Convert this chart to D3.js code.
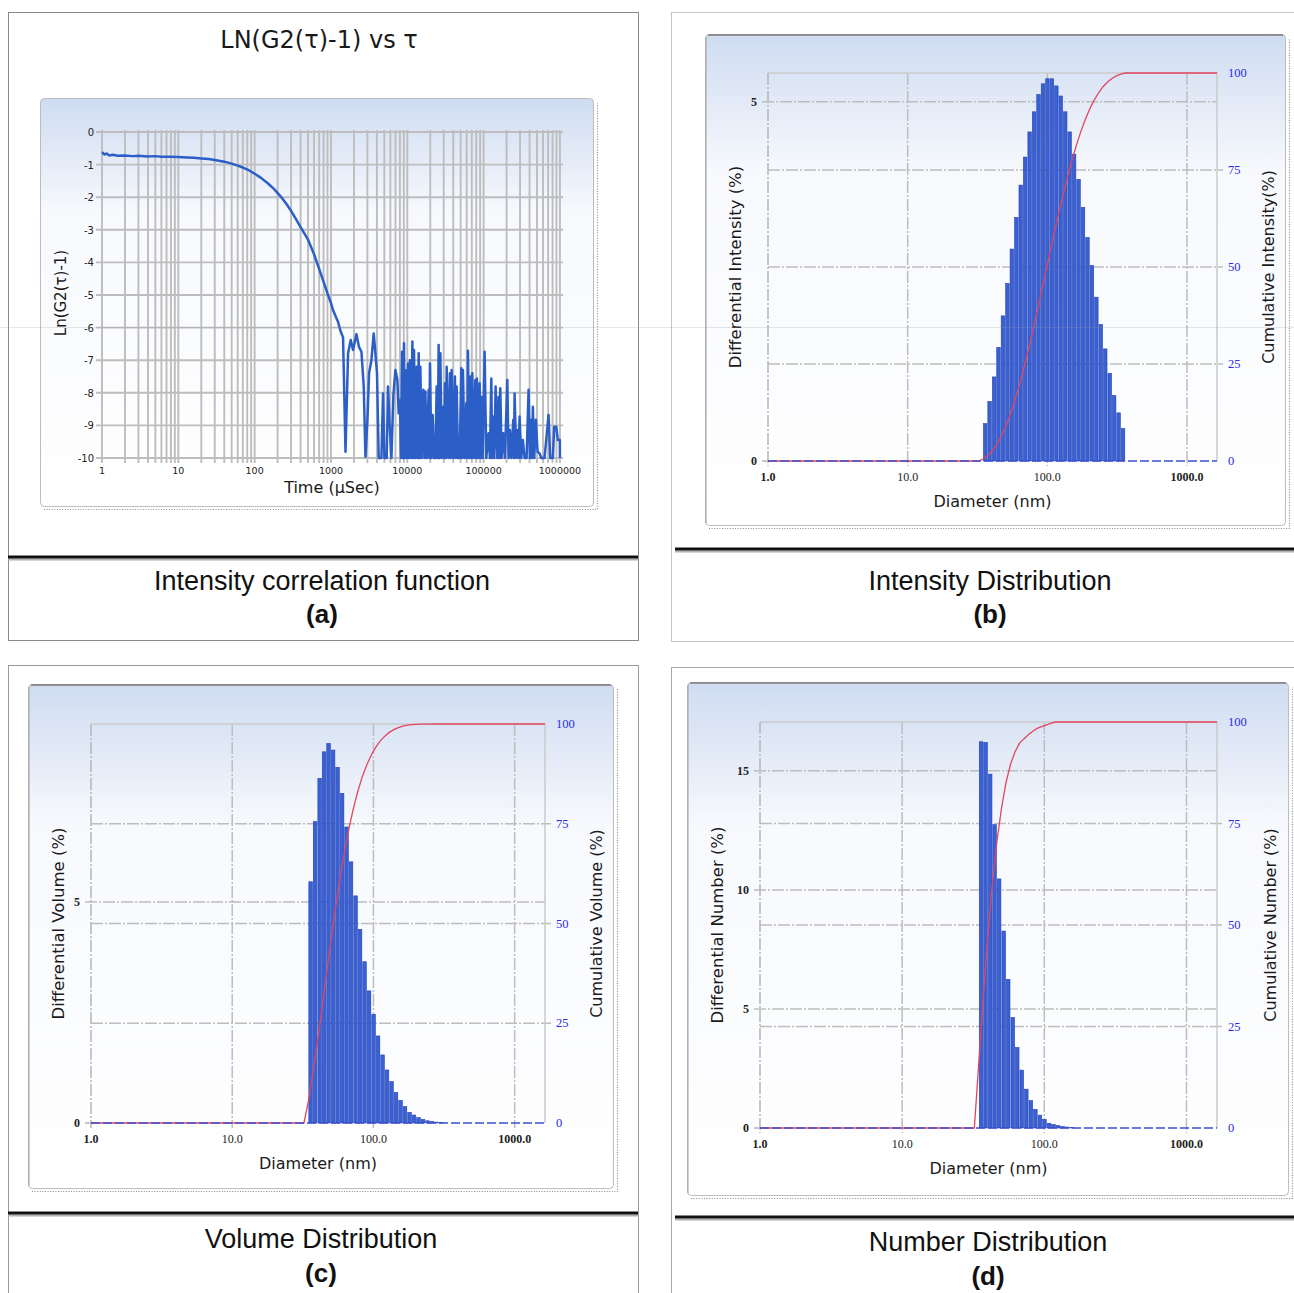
<!DOCTYPE html>
<html><head><meta charset="utf-8">
<script src="https://cdn.jsdelivr.net/npm/d3@7"></script>
<style>body{margin:0;background:#fff}svg{display:block}</style>
</head><body>
<svg id="c" width="1294" height="1293"></svg>
<script>
// ---------------- DATA ----------------
const corrTime = [1,1.08,1.15,1.25,1.4,1.6,2,2.5,3,4,5,6,8,10,13,16,20,25,30,40,50,60,70,85,100,120,150,180,220,260,300,350,400,450,500,600,700,800,900,1000,1060,1150,1240,1340,1440,
1550,1675,1816,1946,2157,2333,2508,2687,2830,3005,3155,3388,3631,3822,4012,4223,4581,4809,5015,5375,5587,5832,6194,6577,6984,7417,7715,
8022,8270,8531,8790,9059,9250,9446,9822,10210,10520,10850,11250,11660,11950,12240,12760,13280,13680,14100,14460,14840,15430,16250,16750,17260,17950,19060,19440,19820,20660,21490,22350,23300,24260,25000,25760,26420,27110,28190,29700,30400,31140,31960,32810,34530,36220,37150,38110,40100,42070,43180,44330,46100,48530,51090,52320,53580,56390,59370,60830,62330,65030,67610,69360,71150,73990,77880,79770,81700,85240,88650,90960,93330,97060,
103000,108400,116200,120800,126100,129200,132400,138000,143600,151100,157100,161200,165400,172100,181100,190100,204300,212500,220900,230500,244700,249600,254500,268000,281200,288500,295900,311600,326900,344200,365600,388300,403600,421000,431200,441700,461000,484000,508900,541100,569200,628400,709500,746000,807200,841700,895100,939300,997000,1000000];
const corrLn = [-0.62,-0.69,-0.66,-0.72,-0.70,-0.73,-0.72,-0.74,-0.73,-0.75,-0.74,-0.76,-0.76,-0.77,-0.78,-0.79,-0.81,-0.83,-0.86,-0.91,-0.97,-1.03,-1.09,-1.18,-1.28,-1.40,-1.58,-1.75,-1.98,-2.2,-2.42,-2.68,-2.92,-3.12,-3.3,-3.75,-4.2,-4.6,-4.95,-5.25,-5.45,-5.65,-5.83,-6.12,-6.3,
-9.81,-6.79,-6.38,-6.69,-6.2,-6.6,-6.74,-7.81,-9.96,-8.83,-7.4,-7.0,-6.18,-6.79,-7.4,-10,-10,-8.02,-10,-10,-7.81,-8.83,-10,-8.07,-7.3,-7.61,-8.63,
-8.22,-10,-6.74,-10,-6.48,-10,-7.3,-10,-7.1,-10,-7.0,-10,-6.43,-10,-6.69,-10,-7.2,-10,-6.79,-10,-7.2,-10,-7.91,-10,-7.96,-10,-7.91,-10,-7.1,-10,-8.68,-10,-10,-7.81,-10,-6.53,-10,-6.79,-10,-8.43,-10,-7.71,-10,-7.2,-10,-7.4,-10,-7.3,-10,-7.5,-10,-7.81,-10,-10,-7.25,-10,-7.3,-10,-8.32,-10,-6.71,-10,-7.5,-10,-7.4,-10,-7.61,-10,-7.56,-10,-7.71,-10,-8.12,-10,
-6.74,-10,-9.24,-10,-7.56,-10,-8.73,-10,-7.81,-10,-8.12,-10,-7.86,-10,-9.24,-10,-7.61,-10,-9.14,-10,-8.83,-10,-8.02,-10,-9.14,-10,-8.73,-10,-9.45,-10,-10,-7.91,-10,-8.83,-10,-8.43,-10,-8.83,-9.81,-9.86,-10,-10,-8.68,-10,-10,-9.04,-9.04,-9.45,-9.45,-10];
const corrXTicks = [1,10,100,1000,10000,100000,1000000];
const corrXTickLabels = ["1","10","100","1000","10000","100000","1000000"];
const corrYTicks = [0,-1,-2,-3,-4,-5,-6,-7,-8,-9,-10];

// bin centre diameters (nm)
const diameterBins = [35.9,38.6,41.6,44.7,48.1,51.8,55.7,60.0,64.5,69.4,74.7,80.4,86.5,93.1,100.2,107.8,116.0,124.8,134.3,144.5,155.5,167.3,180.1,193.8,208.5,224.4,241.5,259.8,279.6,300.9,323.7,348.4,374.8,403.3];
const intensityDiff = [0.52,0.83,1.17,1.58,2.02,2.47,2.95,3.39,3.84,4.23,4.58,4.86,5.10,5.25,5.32,5.32,5.22,5.08,4.86,4.58,4.27,3.92,3.53,3.11,2.72,2.28,1.90,1.56,1.22,0.91,0.67,0.45];
const intensityCum = [0.52,1.35,2.52,4.10,6.12,8.59,11.54,14.93,18.77,23.00,27.58,32.44,37.54,42.79,48.11,53.43,58.65,63.73,68.59,73.17,77.44,81.36,84.89,88.00,90.72,93.00,94.90,96.46,97.68,98.59,99.26,99.71,100];
const volumeDiff = [5.46,6.82,7.80,8.40,8.59,8.44,8.05,7.46,6.70,5.91,5.14,4.38,3.65,2.99,2.46,1.97,1.54,1.20,0.94,0.69,0.51,0.37,0.24,0.18,0.12,0.08,0.05,0.03,0.02,0.01];
const volumeCum = [5.46,12.28,20.08,28.48,37.07,45.51,53.56,61.02,67.72,73.63,78.77,83.15,86.80,89.79,92.25,94.22,95.76,96.96,97.90,98.59,99.10,99.47,99.71,99.85,99.92,99.96,99.98,99.99,100,100,100];
const numberDiff = [16.22,16.19,14.86,12.74,10.46,8.27,6.24,4.64,3.38,2.43,1.63,1.15,0.78,0.54,0.36,0.20,0.15,0.10,0.06,0.04,0.02];
const numberCum = [16.2,32.4,47.3,60.0,70.5,78.7,85.0,89.6,92.6,94.8,95.9,96.9,97.8,98.5,98.9,99.3,99.7,100,100,100,100,100];
const diamTicks = [1,10,100,1000];
const diamTickLabels = ["1.0","10.0","100.0","1000.0"];
const cumTicks = [0,25,50,75,100];
const captionTexts = ["Intensity correlation function","Intensity Distribution","Volume Distribution","Number Distribution"];
const captionTags = ["(a)","(b)","(c)","(d)"];

// ---------------- DRAWING ----------------
const svg = d3.select("#c");
const defs = svg.append("defs");
const grad = defs.append("linearGradient").attr("id","bg").attr("x1",0).attr("y1",0).attr("x2",0).attr("y2",1);
grad.append("stop").attr("offset","0").attr("stop-color","#cfdcf1");
grad.append("stop").attr("offset","0.28").attr("stop-color","#f7f9fd");
grad.append("stop").attr("offset","1").attr("stop-color","#ffffff");

const SANS = "DejaVu Sans, Verdana, sans-serif";
const SERIF = "Liberation Serif, Times New Roman, serif";
const CAP = "Liberation Sans, Arial, sans-serif";

// outer panels
const panels = [
  {x:8,y:12,w:630,h:628,rule:557,capY:590,tagY:623,cx:322,stroke:"#8a8a8a"},
  {x:671,y:12,w:640,h:629,rule:549,capY:590,tagY:623,cx:990,stroke:"#c4c4c4"},
  {x:8,y:665,w:630,h:640,rule:1213,capY:1248,tagY:1282,cx:321,stroke:"#9a9a9a"},
  {x:671,y:667,w:640,h:640,rule:1217,capY:1251,tagY:1285,cx:988,stroke:"#a8a8a8"}
];
panels.forEach((p,i)=>{
  svg.append("rect").attr("x",p.x+0.5).attr("y",p.y+0.5).attr("width",p.w).attr("height",p.h)
    .attr("fill","#fff").attr("stroke",p.stroke).attr("stroke-width",1);
  const rx0 = i%2===1 ? p.x+4 : p.x;
  svg.append("line").attr("x1",rx0).attr("x2",p.x+p.w).attr("y1",p.rule+2.5).attr("y2",p.rule+2.5).attr("stroke","#b0b0b0").attr("stroke-width",2);
  svg.append("line").attr("x1",rx0).attr("x2",p.x+p.w).attr("y1",p.rule).attr("y2",p.rule).attr("stroke","#111").attr("stroke-width",3);
  svg.append("text").attr("x",p.cx).attr("y",p.capY).attr("text-anchor","middle")
    .attr("font-family",CAP).attr("font-size",27).attr("fill","#111").text(captionTexts[i]);
  svg.append("text").attr("x",p.cx).attr("y",p.tagY).attr("text-anchor","middle")
    .attr("font-family",CAP).attr("font-weight","bold").attr("font-size",26).attr("fill","#111").text(captionTags[i]);
});

// inner chart boxes
function innerBox(b, darkTop){
  svg.append("path").attr("d",`M${b.x+4},${b.y+b.h+3.5}H${b.x+b.w+4.5}V${b.y+5}`)
    .attr("fill","none").attr("stroke","#8c8c8c").attr("stroke-width",1.2).attr("stroke-dasharray","1,1.6");
  svg.append("rect").attr("x",b.x+0.5).attr("y",b.y+0.5).attr("width",b.w).attr("height",b.h).attr("rx",4)
    .attr("fill","url(#bg)").attr("stroke","#bdbdbd").attr("stroke-width",1);
  if(darkTop){
    svg.append("line").attr("x1",b.x+3).attr("x2",b.x+b.w-2).attr("y1",b.y+1).attr("y2",b.y+1).attr("stroke","#7a7a7a").attr("stroke-width",1.5);
    svg.append("line").attr("x1",b.x+1).attr("x2",b.x+1).attr("y1",b.y+3).attr("y2",b.y+b.h-2).attr("stroke","#a0a0a0").attr("stroke-width",1);
  }
}
innerBox({x:40,y:98,w:553,h:408}, false);
innerBox({x:705,y:34,w:580,h:491}, true);
innerBox({x:28,y:684,w:585,h:504}, true);
innerBox({x:687,y:682,w:601,h:513}, true);

// ---------- Panel (a) ----------
(function(){
  const g = svg.append("g");
  const x = d3.scaleLog().domain([1,1.1e6]).range([102,563.1]);
  const y = d3.scaleLinear().domain([0,-10]).range([132,458]);
  const minor = [];
  for(let e=0;e<6;e++) for(let k=1;k<10;k++) minor.push(k*Math.pow(10,e));
  minor.push(1e6);
  g.selectAll(null).data(minor).join("line")
    .attr("x1",d=>x(d)).attr("x2",d=>x(d)).attr("y1",130).attr("y2",463)
    .attr("stroke","#bdbdbd").attr("stroke-width",1.9);
  g.selectAll(null).data(corrYTicks).join("line")
    .attr("x1",96).attr("x2",563).attr("y1",d=>y(d)).attr("y2",d=>y(d))
    .attr("stroke","#bdbdbd").attr("stroke-width",1.9);
  g.selectAll(null).data(corrYTicks).join("text")
    .attr("x",94).attr("y",d=>y(d)+4).attr("text-anchor","end")
    .attr("font-family",SANS).attr("font-size",10).attr("fill","#222").text(d=>d);
  g.selectAll(null).data(corrXTicks).join("text")
    .attr("x",d=>x(d)).attr("y",474).attr("text-anchor","middle")
    .attr("font-family",SANS).attr("font-size",9.5).attr("fill","#222").text((d,i)=>corrXTickLabels[i]);
  const pts = corrTime.map((t,i)=>[t,corrLn[i]]);
  g.append("path").attr("d", d3.line().x(d=>x(d[0])).y(d=>y(d[1]))(pts))
    .attr("fill","none").attr("stroke","#2c5ec8").attr("stroke-width",2.5).attr("stroke-linejoin","round");
  svg.append("text").attr("x",319).attr("y",48).attr("text-anchor","middle")
    .attr("font-family",SANS).attr("font-size",24).attr("fill","#1a1a1a").text("LN(G2(τ)-1) vs τ");
  svg.append("text").attr("x",332).attr("y",493).attr("text-anchor","middle")
    .attr("font-family",SANS).attr("font-size",16).attr("fill","#1a1a1a").text("Time (µSec)");
  svg.append("text").attr("transform","translate(66,293) rotate(-90)").attr("text-anchor","middle")
    .attr("font-family",SANS).attr("font-size",15).attr("fill","#1a1a1a").text("Ln(G2(τ)-1)");
})();

// ---------- Distribution panels ----------
function drawDist(c){
  const g = svg.append("g");
  const x = d3.scaleLog().domain([1,1640]).range([c.L,c.R]);
  const yl = d3.scaleLinear().domain([0,c.yMax]).range([c.B,c.T]);
  const yr = d3.scaleLinear().domain([0,100]).range([c.B,c.T]);
  const grid = s => s.attr("stroke","#bdbdbd").attr("stroke-width",1.5).attr("stroke-dasharray","12,2,2,2");
  g.selectAll(null).data(c.leftTicks.filter(v=>v>0)).join("line")
    .attr("x1",c.L-6).attr("x2",c.R).attr("y1",d=>yl(d)).attr("y2",d=>yl(d)).call(grid);
  g.selectAll(null).data(cumTicks.filter(v=>v>0&&v<100)).join("line")
    .attr("x1",c.L).attr("x2",c.R+6).attr("y1",d=>yr(d)).attr("y2",d=>yr(d)).call(grid);
  g.selectAll(null).data(diamTicks.slice(1)).join("line")
    .attr("x1",d=>x(d)).attr("x2",d=>x(d)).attr("y1",c.T).attr("y2",c.B+5).call(grid);
  g.append("path").attr("d",`M${c.L},${c.T}H${c.R}V${c.B}`).attr("fill","none").attr("stroke","#cacaca").attr("stroke-width",1.5);
  g.append("line").attr("x1",c.L).attr("x2",c.L).attr("y1",c.T).attr("y2",c.B+5).call(grid).attr("stroke","#b5b5b5");
  g.append("line").attr("x1",c.L-6).attr("x2",c.L).attr("y1",c.B).attr("y2",c.B).attr("stroke","#b5b5b5").attr("stroke-width",1.5);
  // bars
  const step = x(diameterBins[1]) - x(diameterBins[0]);
  g.selectAll(null).data(c.diff).join("rect")
    .attr("x",(v,i)=>x(diameterBins[i]) - step/2 + 0.45)
    .attr("width",step-0.9)
    .attr("y",v=>yl(v)).attr("height",v=>c.B-yl(v))
    .attr("fill","#3a60d6").attr("stroke","#2342ad").attr("stroke-width",0.6);
  // cumulative line
  const pts = [[c.L,yr(0)],[x(diameterBins[0]) - 1.5*step, yr(0)]];
  c.cum.forEach((v,i)=>pts.push([x(diameterBins[i]) - step/2, yr(v)]));
  pts.push([c.R, yr(100)]);
  g.append("path").attr("d",d3.line()(pts)).attr("fill","none").attr("stroke","#e2455f").attr("stroke-width",1.3);
  // blue baseline of differential series
  g.append("line").attr("x1",c.L).attr("x2",c.R).attr("y1",c.B).attr("y2",c.B)
    .attr("stroke","#3d4fd2").attr("stroke-width",1.4).attr("stroke-dasharray","9,3");
  // labels
  g.selectAll(null).data(c.leftTicks).join("text")
    .attr("x",c.L-11).attr("y",d=>yl(d)+4).attr("text-anchor","end")
    .attr("font-family",SERIF).attr("font-size",12).attr("font-weight","bold").attr("fill","#222").text(d=>d);
  g.selectAll(null).data(cumTicks).join("text")
    .attr("x",c.R+11).attr("y",d=>yr(d)+4).attr("text-anchor","start")
    .attr("font-family",SERIF).attr("font-size",12.5).attr("fill","#2a2aee").text(d=>d);
  g.selectAll(null).data(diamTicks).join("text")
    .attr("x",d=>x(d)).attr("y",c.B+20).attr("text-anchor","middle")
    .attr("font-family",SERIF).attr("font-size",12)
    .attr("font-weight",(d,i)=> (i===0||i===3) ? "bold" : "normal")
    .attr("fill","#222").text((d,i)=>diamTickLabels[i]);
  g.append("text").attr("x",(c.L+c.R)/2).attr("y",c.B+46).attr("text-anchor","middle")
    .attr("font-family",SANS).attr("font-size",16).attr("fill","#1a1a1a").text("Diameter (nm)");
  g.append("text").attr("transform",`translate(${c.L-c.lOff},${(c.T+c.B)/2}) rotate(-90)`).attr("text-anchor","middle")
    .attr("font-family",SANS).attr("font-size",16.5).attr("fill","#1a1a1a").text(c.leftTitle);
  g.append("text").attr("transform",`translate(${c.R+c.rOff},${(c.T+c.B)/2}) rotate(-90)`).attr("text-anchor","middle")
    .attr("font-family",SANS).attr("font-size",16).attr("fill","#1a1a1a").text(c.rightTitle);
}

drawDist({L:768,R:1217,T:73,B:461,yMax:5.40,leftTicks:[0,5],diff:intensityDiff,cum:intensityCum,
  leftTitle:"Differential Intensity (%)",rightTitle:"Cumulative Intensity(%)",lOff:27,rOff:57});
drawDist({L:91,R:545,T:724,B:1123,yMax:9.03,leftTicks:[0,5],diff:volumeDiff,cum:volumeCum,
  leftTitle:"Differential Volume (%)",rightTitle:"Cumulative Volume (%)",lOff:27,rOff:57});
drawDist({L:760,R:1217,T:722,B:1128,yMax:17.05,leftTicks:[0,5,10,15],diff:numberDiff,cum:numberCum,
  leftTitle:"Differential Number (%)",rightTitle:"Cumulative Number (%)",lOff:37,rOff:59});

// faint scan line across the figure
svg.append("line").attr("x1",0).attr("x2",1294).attr("y1",327.5).attr("y2",327.5)
  .attr("stroke","#9a9a9a").attr("stroke-opacity",0.25).attr("stroke-width",1);
</script>
</body></html>
